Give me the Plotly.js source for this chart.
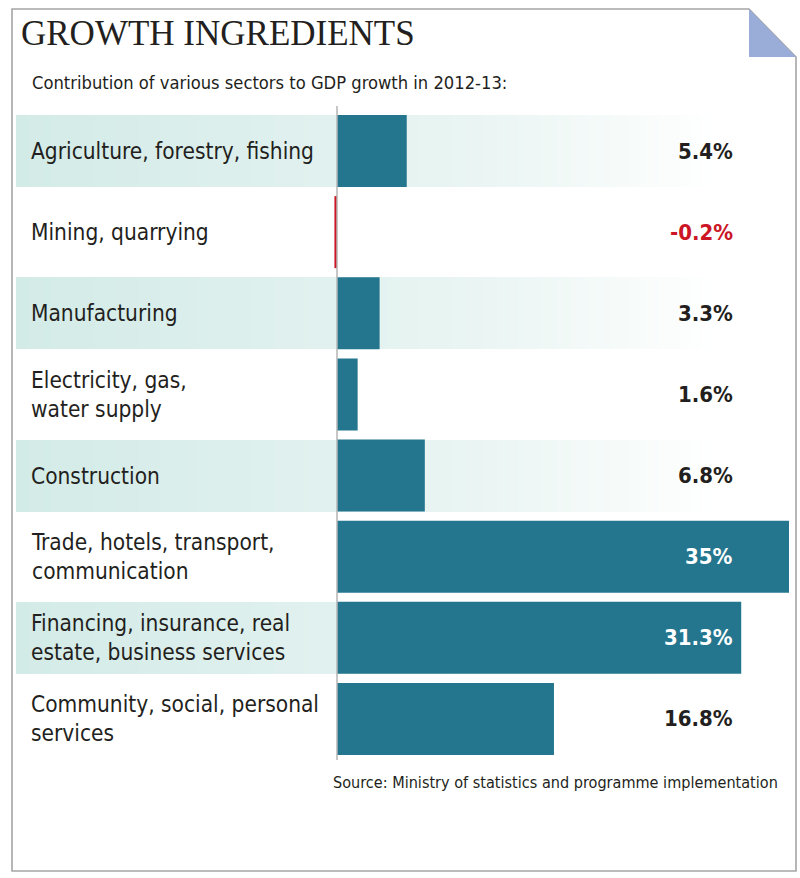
<!DOCTYPE html>
<html>
<head>
<meta charset="utf-8">
<script src="https://cdn.plot.ly/plotly-3.0.1.min.js"></script>
<style>
  html, body { margin: 0; padding: 0; background: #ffffff; }
  #chart { width: 800px; height: 878px; }
</style>
</head>
<body>
<div id="chart"></div>
<script>
// ---- data ----
const titleText = "GROWTH INGREDIENTS";
const subtitleText = "Contribution of various sectors to GDP growth in 2012-13:";
const sourceText = "Source: Ministry of statistics and programme implementation";
const categories = [
  "Agriculture, forestry, fishing",
  "Mining, quarrying",
  "Manufacturing",
  "Electricity, gas,<br>water supply",
  "Construction",
  "Trade, hotels, transport,<br>communication",
  "Financing, insurance, real<br>estate, business services",
  "Community, social, personal<br>services"
];
const values = [5.4, -0.2, 3.3, 1.6, 6.8, 35, 31.3, 16.8];
const valueLabels = ["5.4%", "-0.2%", "3.3%", "1.6%", "6.8%", "35%", "31.3%", "16.8%"];

// ---- layout geometry (pixels) ----
const W = 800, H = 878;
const zeroPx = 337, pxPerUnit = 452 / 35;
const row0Px = 151, rowPitch = 81.14, barPx = 72;
const px2x = p => (p - zeroPx) / pxPerUnit;
const py2y = p => (p - row0Px) / rowPitch;
const pxp = p => p / W;            // pixel -> paper x
const pyp = p => 1 - p / H;        // pixel -> paper y

const NARROW = "'Liberation Sans Narrow', 'DejaVu Sans Condensed', sans-serif";
const DARK = "#231f20";
const BAR = "#24768f";
const NEG = "#cc1525";

const idx = categories.map((c, i) => i);
const half = (barPx / rowPitch) / 2;

// background bands (alternate rows) as a gradient heatmap, drawn below the bars
const bandX0 = px2x(16), bandX1 = px2x(715), N = 160;
const xEdges = [];
for (let j = 0; j <= N; j++) xEdges.push(bandX0 + (bandX1 - bandX0) * j / N);
const yEdges = [];
const z = [];
idx.forEach(i => {
  yEdges.push(i - half);
  yEdges.push(i + half);
});
for (let r = 0; r < yEdges.length - 1; r++) {
  const isBand = (r % 2 === 0) && ((r / 2) % 2 === 0);
  const row = [];
  for (let j = 0; j < N; j++) row.push(isBand ? (j + 0.5) / N : null);
  z.push(row);
}

const bands = {
  type: "heatmap",
  x: xEdges, y: yEdges, z: z,
  zmin: 0, zmax: 1,
  colorscale: [[0, "#d3ebe7"], [0.45, "#e1f1ef"], [0.7, "#ecf6f4"], [0.9, "#f8fcfb"], [1, "#ffffff"]],
  showscale: false, hoverinfo: "skip"
};

const bars = {
  type: "bar", orientation: "h",
  x: values, y: idx,
  width: barPx / rowPitch,
  marker: { color: values.map(v => v < 0 ? NEG : BAR), line: { width: 0 } },
  hoverinfo: "skip"
};

const annotations = [];
annotations.push({
  xref: "paper", yref: "paper", x: pxp(19), y: pyp(34), xanchor: "left", yanchor: "middle",
  text: titleText, showarrow: false,
  font: { family: "'Liberation Serif', 'DejaVu Serif', serif", size: 35, color: DARK }
});
annotations.push({
  xref: "paper", yref: "paper", x: pxp(30), y: pyp(83), xanchor: "left", yanchor: "middle",
  text: subtitleText, showarrow: false,
  font: { family: NARROW, size: 18.2, color: DARK }
});
annotations.push({
  xref: "paper", yref: "paper", x: pxp(331), y: pyp(782), xanchor: "left", yanchor: "middle",
  text: sourceText, showarrow: false,
  font: { family: NARROW, size: 16.1, color: DARK }
});
const labelX = px2x(735);
categories.forEach((c, i) => {
  annotations.push({
    xref: "paper", yref: "y", x: pxp(29), y: i, xanchor: "left", yanchor: "middle",
    text: c, showarrow: false, align: "left",
    font: { family: NARROW, size: 22.5, color: DARK }
  });
  const col = values[i] < 0 ? NEG : (values[i] > labelX ? "#ffffff" : DARK);
  annotations.push({
    xref: "x", yref: "y", x: labelX, y: i, xanchor: "right", yanchor: "middle",
    text: valueLabels[i], showarrow: false,
    font: { family: NARROW, size: 22, color: col, weight: "bold" }
  });
});

const shapes = [
  // zero line
  { type: "line", xref: "x", yref: "paper", x0: 0, x1: 0, y0: pyp(106), y1: pyp(760),
    line: { color: "#b5b5b5", width: 1.5 }, layer: "above" },
  // border with folded corner
  { type: "path", xref: "paper", yref: "paper",
    path: `M ${pxp(12)},${pyp(9)} L ${pxp(749)},${pyp(9)} L ${pxp(796)},${pyp(57)} L ${pxp(796)},${pyp(871)} L ${pxp(12)},${pyp(871)} Z`,
    line: { color: "#a5a5a5", width: 1.6 }, fillcolor: "rgba(0,0,0,0)", layer: "above" },
  // fold triangle
  { type: "path", xref: "paper", yref: "paper",
    path: `M ${pxp(749)},${pyp(9)} L ${pxp(749)},${pyp(57)} L ${pxp(796)},${pyp(57)} Z`,
    line: { width: 0 }, fillcolor: "#9aacd8", layer: "above" }
];

const layout = {
  width: W, height: H,
  margin: { l: 0, r: 0, t: 0, b: 0, pad: 0 },
  paper_bgcolor: "#ffffff", plot_bgcolor: "rgba(0,0,0,0)",
  showlegend: false,
  xaxis: { range: [px2x(0), px2x(W)], showgrid: false, zeroline: false, showticklabels: false, showline: false, ticks: "", fixedrange: true },
  yaxis: { range: [py2y(H), py2y(0)], showgrid: false, zeroline: false, showticklabels: false, showline: false, ticks: "", fixedrange: true },
  annotations: annotations,
  shapes: shapes
};

Plotly.newPlot("chart", [bands, bars], layout, { displayModeBar: false, staticPlot: true });
</script>
</body>
</html>
